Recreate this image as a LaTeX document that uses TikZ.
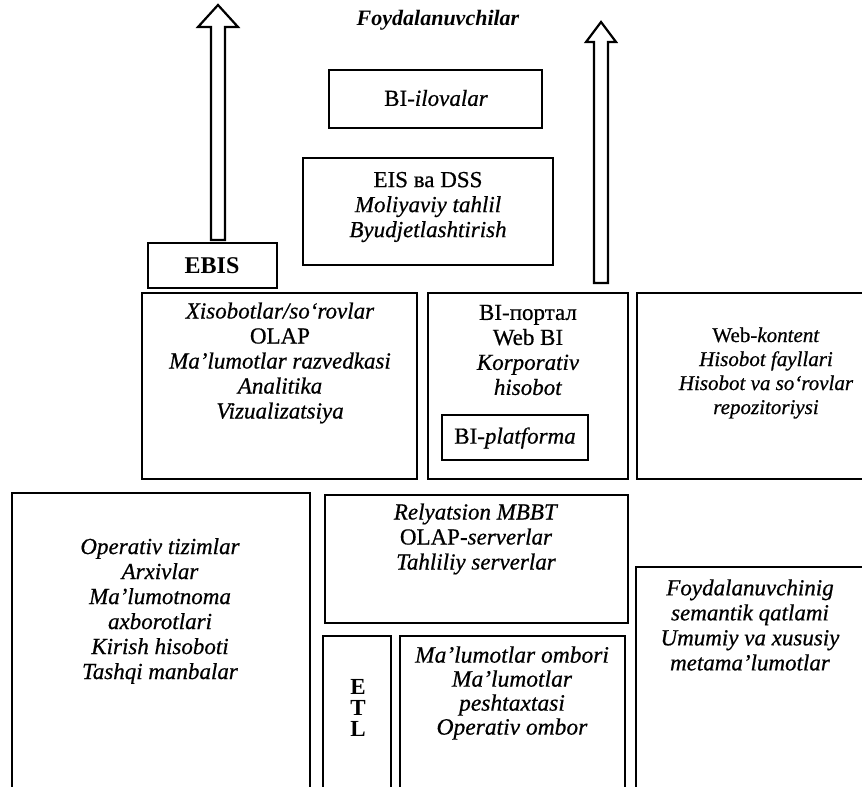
\documentclass[tikz,border=0pt]{standalone}
\usepackage{fontspec}
\setmainfont{Liberation Serif}[UprightFeatures={FakeBold=0.6}, ItalicFeatures={FakeBold=0.6}]
\begin{document}
\begin{tikzpicture}[x=1pt,y=-1pt,
  box/.style={draw=black, line width=1.8pt},
  blockarrow/.style={draw=black, fill=white, line width=2.2pt, line join=miter},
  txt/.style={align=center, inner sep=0pt, font=\fontsize{23}{25}\selectfont}]
\useasboundingbox (0,0) rectangle (862,787);

% block arrows
\draw[blockarrow] (211,240) -- (211,27) -- (198,27) -- (218,5) -- (238,27) -- (225,27) -- (225,240) -- cycle;
\draw[blockarrow] (594,283) -- (594,42) -- (586,42) -- (601,22) -- (616,42) -- (608,42) -- (608,283) -- cycle;

% title
\node[inner sep=0pt, font=\fontsize{22}{24}\selectfont\bfseries\itshape] (users) at (438,20) {Foydalanuvchilar};

% BI-ilovalar
\draw[box] (329,70) rectangle (542,128);
\node[txt] (biapp) at (436,98) {BI-\textit{ilovalar}};

% EIS & DSS
\draw[box] (303,158) rectangle (553,265);
\node[txt] (eis) at (428,207) {EIS ва DSS\\\textit{Moliyaviy tahlil}\\\textit{Byudjetlashtirish}};

% EBIS
\draw[box] (148,243) rectangle (277,288);
\node[txt, font=\fontsize{24}{25}\selectfont\bfseries] (ebis) at (212,266) {EBIS};

% Xisobotlar
\draw[box] (142,293) rectangle (417,479);
\node[txt] (rep) at (280,363) {\textit{Xisobotlar/so‘rovlar}\\OLAP\\\textit{Ma’lumotlar razvedkasi}\\\textit{Analitika}\\\textit{Vizualizatsiya}};

% BI-portal
\draw[box] (428,293) rectangle (628,479);
\node[txt] (portal) at (528,350) {BI-портал\\Web BI\\\textit{Korporativ}\\\textit{hisobot}};
\draw[box] (442,415) rectangle (588,460);
\node[txt] (platform) at (515,438) {BI-\textit{platforma}};

% Web-kontent (open on the right)
\draw[box] (864,293) -- (637,293) -- (637,479) -- (864,479);
\node[txt, font=\fontsize{21}{24}\selectfont] (web) at (766,373) {Web-\textit{kontent}\\\textit{Hisobot fayllari}\\\textit{Hisobot va so‘rovlar}\\\textit{repozitoriysi}};

% Operativ (open at the bottom)
\draw[box] (12,790) -- (12,493) -- (310,493) -- (310,790);
\node[txt] (src) at (160,611) {\textit{Operativ tizimlar}\\\textit{Arxivlar}\\\textit{Ma’lumotnoma}\\\textit{axborotlari}\\\textit{Kirish hisoboti}\\\textit{Tashqi manbalar}};

% Relyatsion
\draw[box] (325,495) rectangle (628,623);
\node[txt] (srv) at (476,539) {\textit{Relyatsion MBBT}\\OLAP-\textit{serverlar}\\\textit{Tahliliy serverlar}};

% ETL
\draw[box] (323,790) -- (323,636) -- (391,636) -- (391,790);
\node[txt, font=\fontsize{23}{21}\selectfont\bfseries] (etl) at (358,708) {E\\T\\L};

% Ma'lumotlar ombori
\draw[box] (400,790) -- (400,636) -- (625,636) -- (625,790);
\node[txt, font=\fontsize{23.5}{24}\selectfont] (dw) at (512,693) {\textit{Ma’lumotlar ombori}\\\textit{Ma’lumotlar}\\\textit{peshtaxtasi}\\\textit{Operativ ombor}};

% Semantic layer
\draw[box] (864,567) -- (636,567) -- (636,790);
\node[txt] (sem) at (750,625) {\textit{Foydalanuvchinig}\\\textit{semantik qatlami}\\\textit{Umumiy va xususiy}\\\textit{metama’lumotlar}};
\end{tikzpicture}
\end{document}
